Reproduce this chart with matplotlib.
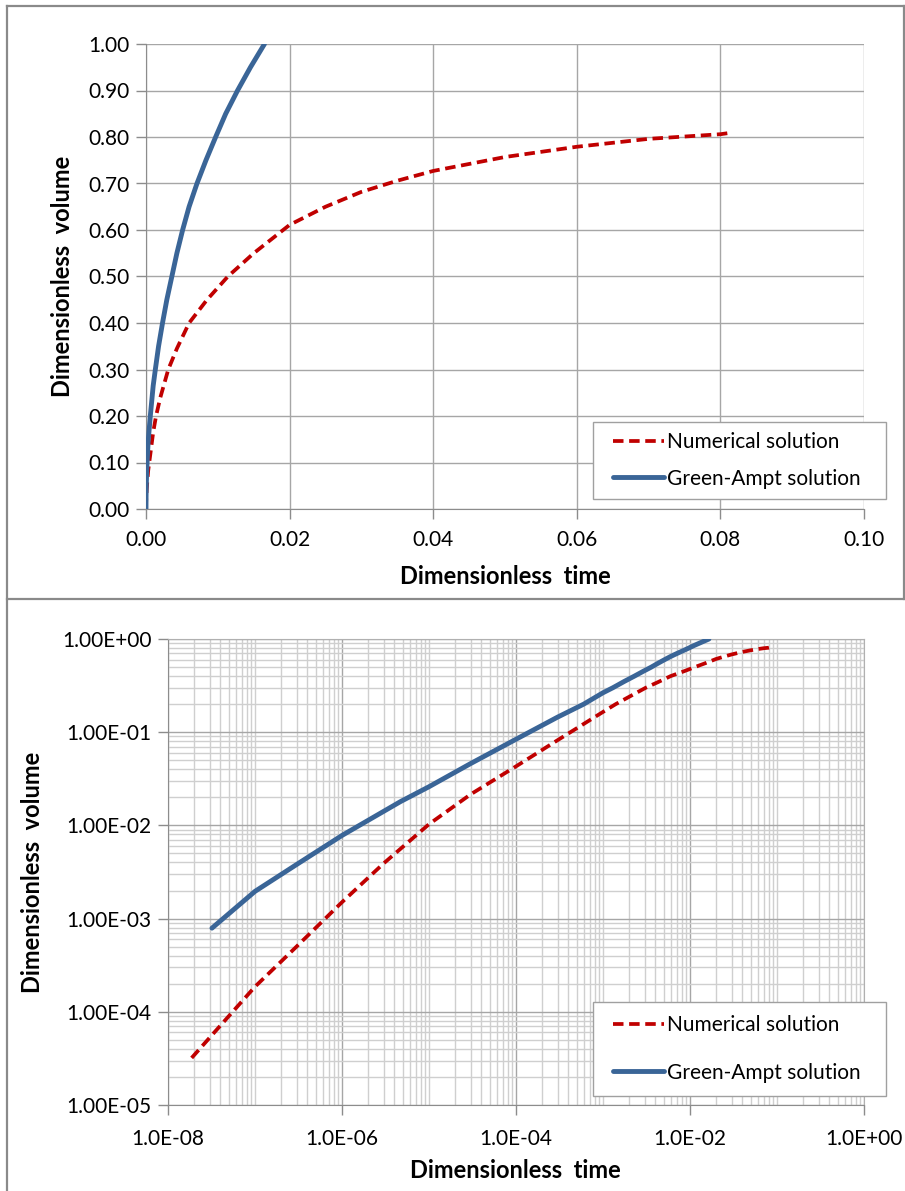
import matplotlib
matplotlib.use("Agg")
import matplotlib.pyplot as plt
from matplotlib.lines import Line2D
from matplotlib.patches import Rectangle
from matplotlib.ticker import FixedLocator, FuncFormatter, LogLocator, MultipleLocator, NullFormatter

plt.rcParams["font.family"] = ["Lato", "DejaVu Sans"]

# Numerical solution: dimensionless time vs dimensionless volume
num_t = [1.87e-8, 1.0e-7, 2.8e-7, 1.0e-6, 3.0e-6, 1.0e-5, 3.0e-5, 1.0e-4,
         3.0e-4, 1.0e-3, 1.4e-3, 2.0e-3, 3.1e-3, 4.3e-3, 6.0e-3, 8.5e-3, 1.14e-2,
         1.5e-2, 2.0e-2, 2.5e-2, 3.0e-2, 3.5e-2, 4.0e-2, 5.0e-2, 6.0e-2, 7.0e-2,
         8.0e-2, 8.14e-2]
num_v = [3.2e-5, 1.86e-4, 4.7e-4, 1.5e-3, 3.9e-3, 1.03e-2, 2.15e-2, 4.3e-2,
         8.2e-2, 0.165, 0.20, 0.24, 0.30, 0.345, 0.40, 0.45, 0.50,
         0.55, 0.611, 0.650, 0.682, 0.706, 0.727, 0.757, 0.779, 0.796,
         0.806, 0.809]

# Green-Ampt solution
ga_t = [3.2e-8, 1.0e-7, 3.0e-7, 1.0e-6, 4.7e-6, 1.0e-5, 3.0e-5, 1.0e-4, 3.0e-4,
        6.0e-4, 1.0e-3, 1.3e-3, 1.75e-3, 2.3e-3, 2.9e-3, 3.6e-3, 4.3e-3, 5.1e-3,
        6.0e-3, 7.1e-3, 8.35e-3, 9.7e-3, 1.11e-2, 1.275e-2, 1.455e-2, 1.65e-2]
ga_v = [7.9e-4, 1.96e-3, 3.8e-3, 7.8e-3, 1.8e-2, 2.6e-2, 4.6e-2, 8.4e-2, 0.145,
        0.20, 0.265, 0.30, 0.35, 0.40, 0.45, 0.50, 0.55, 0.60,
        0.65, 0.70, 0.75, 0.80, 0.85, 0.90, 0.95, 1.00]

series_labels = ["Numerical solution", "Green-Ampt solution"]

RED = "#C00000"
BLUE = "#3A6597"
GRID = "#A6A6A6"
MINOR = "#CFCFCF"
FONT = 15
LABEL_FONT = 17

W, H = 905, 1191
fig = plt.figure(figsize=(W / 100, H / 100), dpi=100)


def frac(x0, y0, x1, y1):
    # pixel box -> figure fraction rect
    return [x0 / W, 1 - y1 / H, (x1 - x0) / W, (y1 - y0) / H]


def draw_series(ax):
    ax.plot(num_t, num_v, color=RED, lw=2.7, dashes=(2.8, 1.5),
            dash_capstyle="butt", label=series_labels[0], zorder=3)
    ax.plot(ga_t, ga_v, color=BLUE, lw=3.5, solid_capstyle="round",
            solid_joinstyle="round", label=series_labels[1], zorder=4)


def add_legend(ax, box, spacing):
    # white box with grey edge, entries laid on top of it
    x0, y0, x1, y1 = box
    ax.add_patch(Rectangle((x0 / W, 1 - y1 / H), (x1 - x0) / W, (y1 - y0) / H,
                           transform=fig.transFigure, facecolor="white",
                           edgecolor="#A0A0A0", lw=1.0, zorder=5, clip_on=False))
    leg = ax.legend(loc="center left", bbox_to_anchor=((x0 + 20) / W, 1 - (y0 + y1) / 2 / H),
                    bbox_transform=fig.transFigure, frameon=False, fontsize=FONT,
                    handlelength=2.45, handletextpad=0.15, labelspacing=spacing,
                    borderpad=0, borderaxespad=0)
    leg.set_zorder(6)
    return leg


# ---- linear panel ----
ax1 = fig.add_axes(frac(146, 44, 864, 509))
draw_series(ax1)
ax1.set_xlim(0, 0.10)
ax1.set_ylim(0, 1.0)
ax1.xaxis.set_major_locator(MultipleLocator(0.02))
ax1.yaxis.set_major_locator(MultipleLocator(0.10))
ax1.xaxis.set_major_formatter(FuncFormatter(lambda v, p: f"{v:.2f}"))
ax1.yaxis.set_major_formatter(FuncFormatter(lambda v, p: f"{v:.2f}"))
ax1.grid(True, color=GRID, lw=1.0)
ax1.set_axisbelow(True)
for s in ("top", "right"):
    ax1.spines[s].set_visible(False)
for s in ("left", "bottom"):
    ax1.spines[s].set_color("#8C8C8C")
ax1.tick_params(direction="out", length=7, width=1, color="#8C8C8C",
                labelsize=FONT, pad=5)
ax1.tick_params(axis="x", pad=8)
add_legend(ax1, (593, 422, 886, 499), 0.78)

fig.text(505 / W, 1 - 576 / H, "Dimensionless  time", ha="center", va="center",
         fontsize=LABEL_FONT, fontweight="bold")
fig.text(62 / W, 1 - 276 / H, "Dimensionless  volume", ha="center", va="center",
         rotation=90, fontsize=LABEL_FONT, fontweight="bold")

# ---- log-log panel ----
ax2 = fig.add_axes(frac(168, 639, 864, 1105))
draw_series(ax2)
ax2.set_xscale("log")
ax2.set_yscale("log")
ax2.set_xlim(1e-8, 1.0)
ax2.set_ylim(1e-5, 1.0)
ax2.xaxis.set_major_locator(FixedLocator([1e-8, 1e-6, 1e-4, 1e-2, 1e0]))
ax2.xaxis.set_minor_locator(LogLocator(base=10, subs=[1, 2, 3, 4, 5, 6, 7, 8, 9], numticks=50))
ax2.yaxis.set_major_locator(LogLocator(base=10, numticks=20))
ax2.yaxis.set_minor_locator(LogLocator(base=10, subs=[2, 3, 4, 5, 6, 7, 8, 9], numticks=50))
ax2.xaxis.set_major_formatter(FuncFormatter(lambda v, p: f"{v:.1E}"))
ax2.yaxis.set_major_formatter(FuncFormatter(lambda v, p: f"{v:.2E}"))
ax2.xaxis.set_minor_formatter(NullFormatter())
ax2.yaxis.set_minor_formatter(NullFormatter())
ax2.grid(True, which="minor", color=MINOR, lw=1.0)
ax2.grid(True, which="major", color=GRID, lw=1.0)
ax2.set_axisbelow(True)
for s in ax2.spines.values():
    s.set_color("#B0B0B0")
ax2.spines["left"].set_color("#8C8C8C")
ax2.spines["bottom"].set_color("#8C8C8C")
ax2.tick_params(which="major", direction="out", length=7, width=1, color="#8C8C8C",
                labelsize=FONT, pad=5)
ax2.tick_params(which="minor", length=0)
ax2.tick_params(axis="x", which="major", pad=10)
add_legend(ax2, (593, 1002, 886, 1096), 1.32)

fig.text(515 / W, 1 - 1170 / H, "Dimensionless  time", ha="center", va="center",
         fontsize=LABEL_FONT, fontweight="bold")
fig.text(32 / W, 1 - 872 / H, "Dimensionless  volume", ha="center", va="center",
         rotation=90, fontsize=LABEL_FONT, fontweight="bold")

# panel borders
border = dict(color="#8A8A8A", lw=1.6, transform=fig.transFigure)
fig.add_artist(Line2D([7 / W, 7 / W], [0, 1 - 6 / H], **border))
fig.add_artist(Line2D([7 / W, 1], [1 - 6 / H, 1 - 6 / H], **border))
fig.add_artist(Line2D([7 / W, 1], [1 - 599 / H, 1 - 599 / H], **border))
fig.add_artist(Line2D([904 / W, 904 / W], [1 - 6 / H, 1 - 599 / H], **border))

fig.savefig("out.png", dpi=100)
